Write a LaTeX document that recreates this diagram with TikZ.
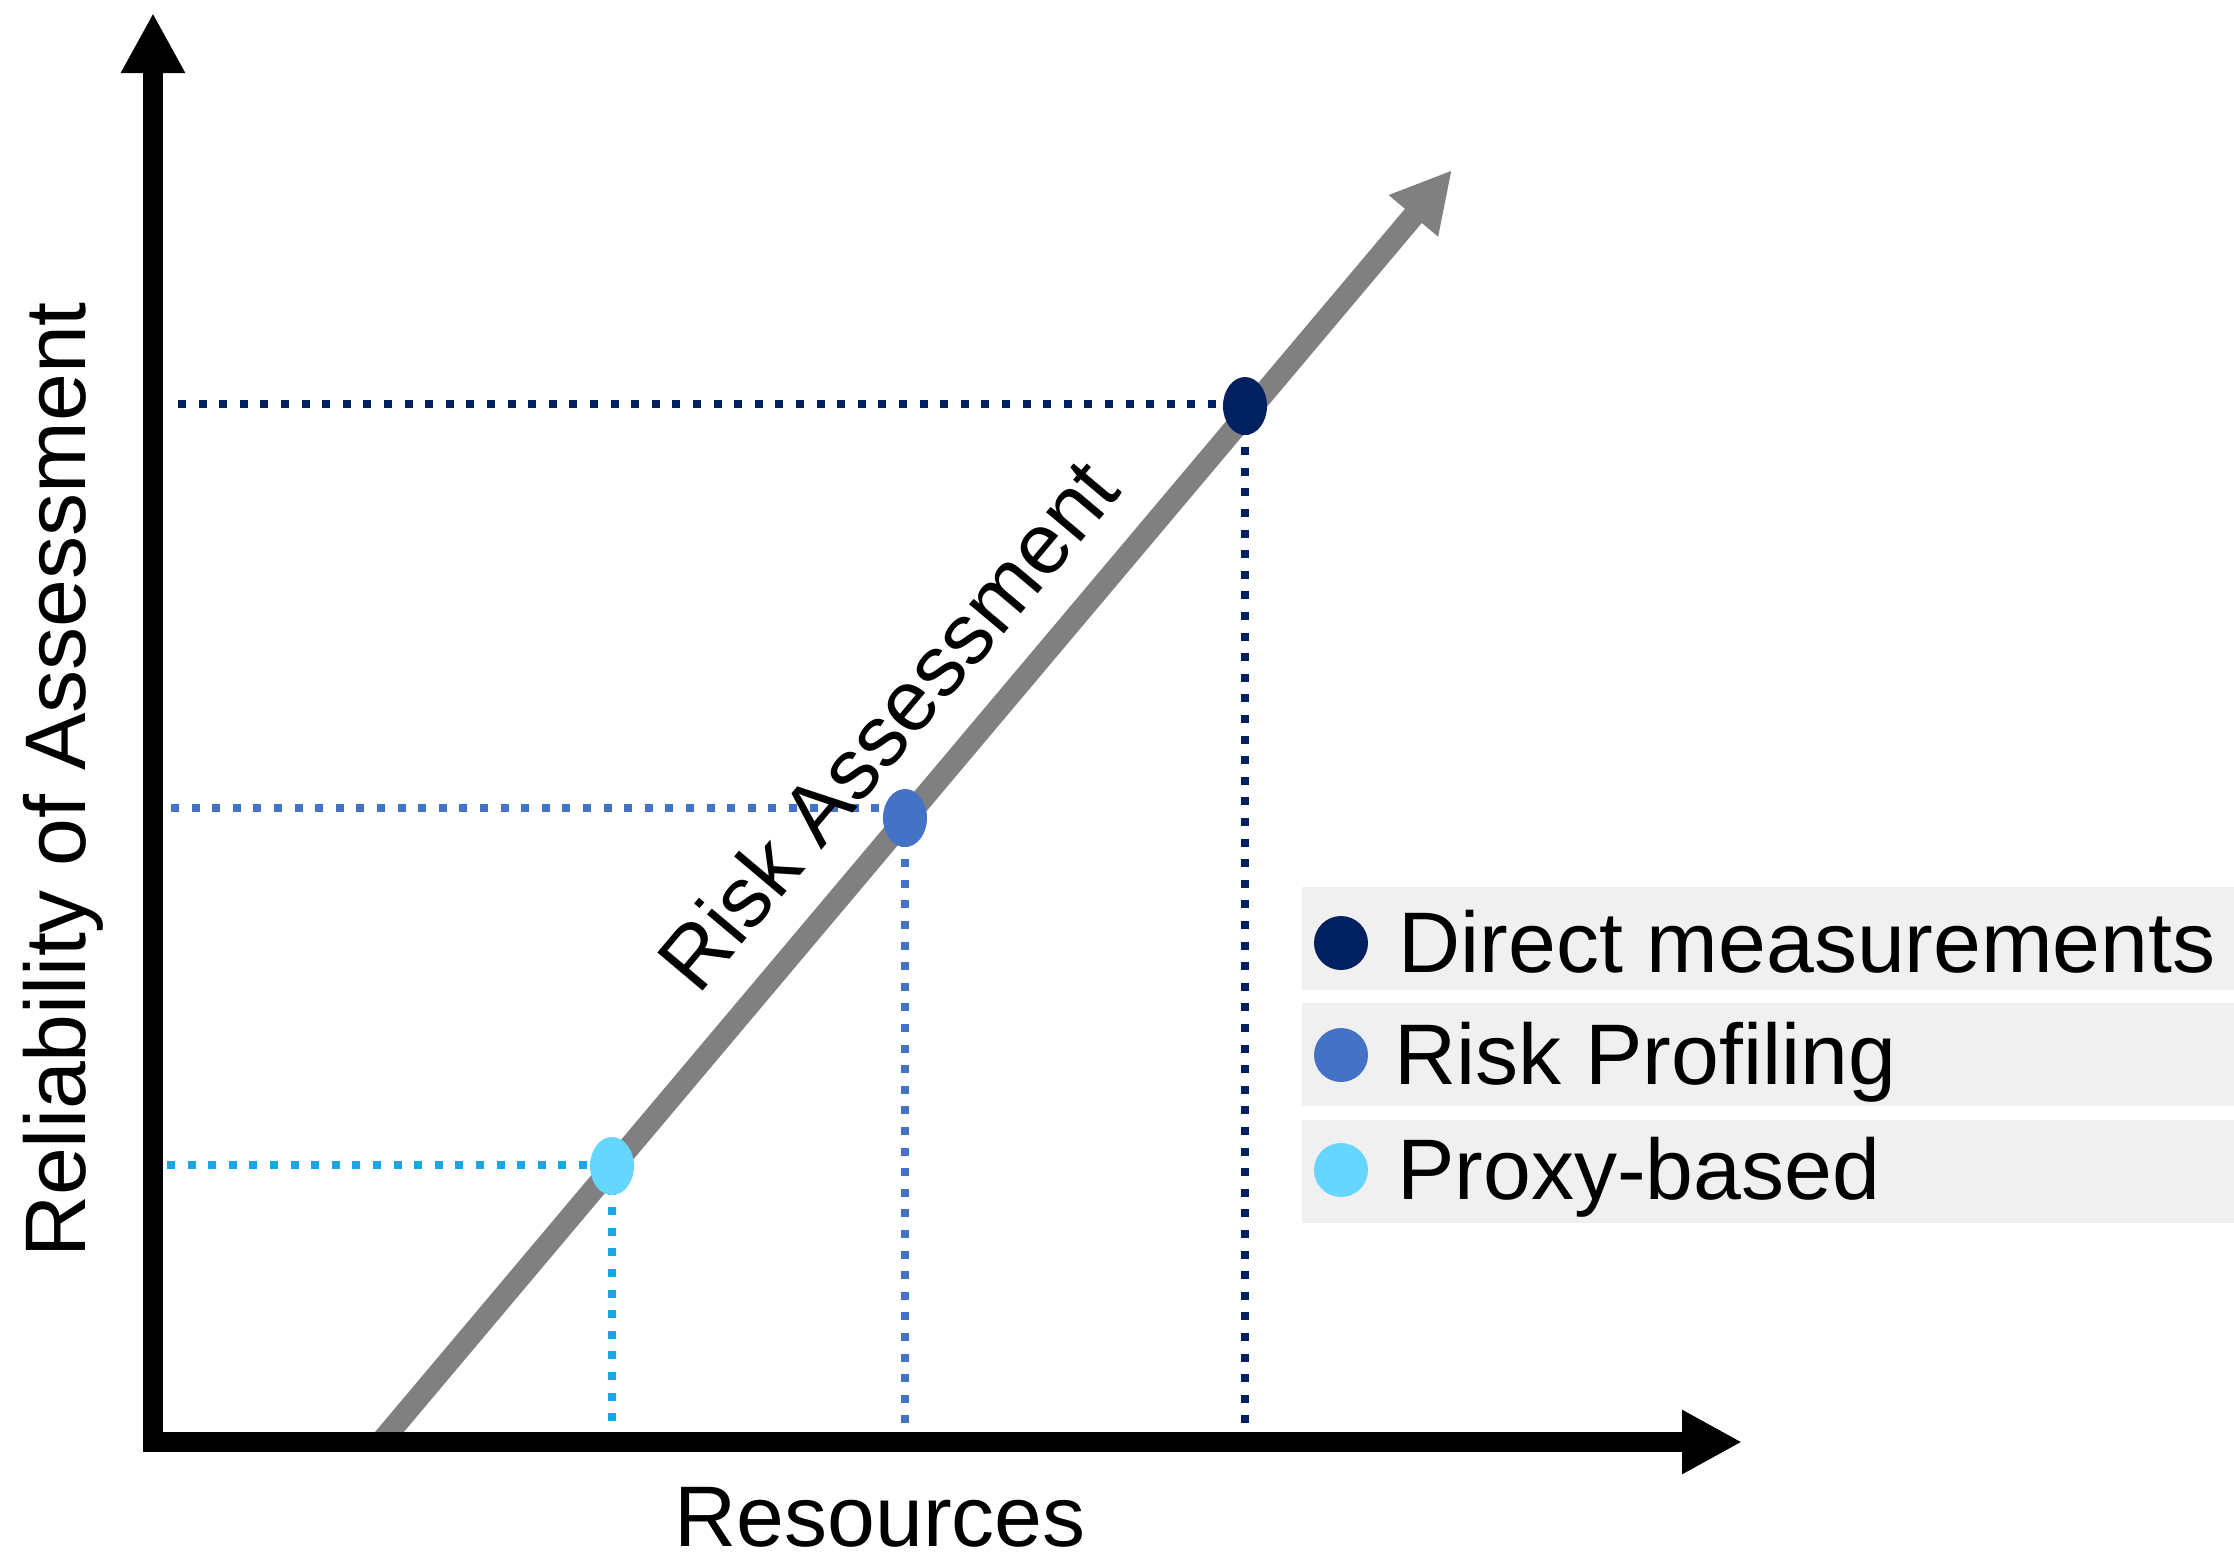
\documentclass[tikz,border=0pt]{standalone}
\usepackage{fontspec}
\setmainfont{Liberation Sans}
\usetikzlibrary{arrows.meta,shapes.geometric}
\definecolor{navy}{HTML}{002060}
\definecolor{midblue}{HTML}{4472C4}
\definecolor{skyblue}{HTML}{66D6FF}
\definecolor{skyline}{HTML}{1AA6E6}
\definecolor{trend}{HTML}{808080}
\definecolor{legendbg}{HTML}{F0F0F0}
\begin{document}
\begin{tikzpicture}[x=0.5pt,y=-0.5pt,
  axis/.style={line width=10pt,-{Triangle[length=30pt,width=30pt]}},
  trendline/.style={trend,line width=11pt,-{Triangle[length=30pt,width=30pt]}},
  guide/.style={line width=4pt,dash pattern=on 4pt off 6.3pt},
  marker/.style={ellipse,inner sep=0pt,minimum width=22pt,minimum height=29pt},
  legendbox/.style={fill=legendbg,inner sep=0pt,minimum width=466pt,minimum height=51.5pt,anchor=north west},
  legenddot/.style={circle,inner sep=0pt,minimum size=27pt},
  label/.style={font=\fontsize{43}{50}\selectfont,inner sep=0pt}]
  \useasboundingbox (0,0) rectangle (2234,1559);

  % trend line (drawn first so the axes sit on top)
  \coordinate (t0) at (381,1442);
  \coordinate (t1) at (1452,170);
  \draw[trendline] (t0) -- (t1);

  % axes
  \coordinate (o) at (153,1452);
  \coordinate (ytip) at (153,13);
  \coordinate (ox) at (143,1442);
  \coordinate (xtip) at (1742,1442);
  \draw[axis] (o) -- (ytip);
  \draw[axis] (ox) -- (xtip);

  % marker positions and guide lines
  \coordinate (p1) at (1245,406);
  \coordinate (p2) at (905,818);
  \coordinate (p3) at (612,1166);
  \coordinate (h1) at (178,404);
  \coordinate (h2) at (171,808);
  \coordinate (h3) at (167,1165);
  \coordinate (v1) at (1245,1432);
  \coordinate (v2) at (905,1432);
  \coordinate (v3) at (612,1432);
  \draw[guide,navy] (h1) -- (h1 -| p1) (p1) -- (v1);
  \draw[guide,midblue] (h2) -- (h2 -| p2) (p2) -- (v2);
  \draw[guide,skyline] (h3) -- (h3 -| p3) (p3) -- (v3);

  \node[marker,fill=navy] (m1) at (p1) {};
  \node[marker,fill=midblue] (m2) at (p2) {};
  \node[marker,fill=skyblue] (m3) at (p3) {};

  % labels
  \node[label,anchor=base] (xl) at (880,1546) {Resources};
  \node[label,anchor=base,rotate=90] (yl) at (85,780) {Reliability of Assessment};
  \node[label,anchor=base,rotate=49.9] (tl) at (911,744) {Risk Assessment};

  % legend
  \node[legendbox] (b1) at (1302,887) {};
  \node[legendbox] (b2) at (1302,1003) {};
  \node[legendbox] (b3) at (1302,1120) {};
  \node[legenddot,fill=navy] (d1) at (1341,943) {};
  \node[legenddot,fill=midblue] (d2) at (1341,1055) {};
  \node[legenddot,fill=skyblue] (d3) at (1341,1170) {};
  \node[label,anchor=base west] (l1) at (1398,972) {Direct measurements};
  \node[label,anchor=base west] (l2) at (1394,1084) {Risk Profiling};
  \node[label,anchor=base west] (l3) at (1397,1199) {Proxy-based};
\end{tikzpicture}
\end{document}
